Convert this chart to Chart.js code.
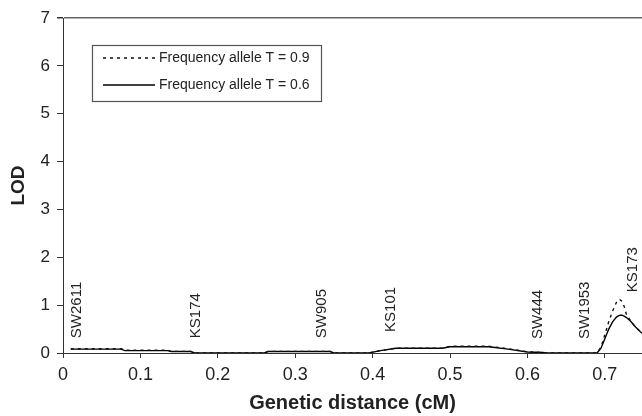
<!DOCTYPE html>
<html>
<head>
<meta charset="utf-8">
<script src="https://cdn.jsdelivr.net/npm/chart.js@4"></script>
<style>
  html, body { margin: 0; padding: 0; background: #fff; }
  #wrap { width: 642px; height: 416px; }
</style>
</head>
<body>
<div id="wrap"><canvas id="lodChart"></canvas></div>
<script>
// values
var distance = [0.01, 0.075, 0.08, 0.135, 0.14, 0.165, 0.17, 0.26, 0.265, 0.345, 0.35, 0.395,
    0.41, 0.43, 0.49, 0.5, 0.55, 0.575, 0.6, 0.62, 0.625, 0.69, 0.695, 0.7, 0.705, 0.71,
    0.715, 0.718, 0.72, 0.722, 0.725, 0.728, 0.733, 0.74, 0.748];
var lod09 = [0.09, 0.09, 0.06, 0.06, 0.035, 0.035, 0, 0, 0.035, 0.035, 0, 0,
    0.05, 0.1, 0.1, 0.14, 0.14, 0.09, 0.025, 0.01, 0, 0, 0.12, 0.38, 0.65, 0.88,
    1.06, 1.12, 1.11, 1.08, 0.97, 0.8, 0.68, 0.53, 0.42];
var lod06 = [0.08, 0.08, 0.05, 0.05, 0.03, 0.03, 0, 0, 0.03, 0.03, 0, 0,
    0.05, 0.1, 0.1, 0.13, 0.13, 0.08, 0.02, 0.01, 0, 0, 0.1, 0.3, 0.5, 0.65,
    0.75, 0.78, 0.79, 0.79, 0.77, 0.74, 0.67, 0.54, 0.41];
var seriesLabels = ['Frequency allele T = 0.9', 'Frequency allele T = 0.6'];

var markerNames = ['SW2611', 'KS174', 'SW905', 'KS101', 'SW444', 'SW1953', 'KS173'];
var markerPos = [0.018, 0.172, 0.335, 0.423, 0.614, 0.674, 0.736];
var markerLabelY = [0.31, 0.31, 0.31, 0.44, 0.29, 0.29, 1.27];

var xTicks = [0, 0.1, 0.2, 0.3, 0.4, 0.5, 0.6, 0.7];
var xMax = 0.748;
var yMax = 7;

var FONT = '"Liberation Sans", Arial, sans-serif';

var markerPlugin = {
    id: 'markerLabels',
    afterDatasetsDraw: (chart) => {
        var ctx = chart.ctx;
        var xs = chart.scales.x, ys = chart.scales.y;
        ctx.save();
        ctx.fillStyle = '#222';
        ctx.font = '15px ' + FONT;
        ctx.textAlign = 'left';
        ctx.textBaseline = 'middle';
        for (let i = 0; i < markerNames.length; i++) {
            ctx.save();
            ctx.translate(xs.getPixelForValue(markerPos[i]), ys.getPixelForValue(markerLabelY[i]));
            ctx.rotate(-Math.PI / 2);
            ctx.fillText(markerNames[i], 0, 0);
            ctx.restore();
        }
        ctx.restore();
    }
};

// legend box inside the plot, like the original
var boxLegend = {
    id: 'boxLegend',
    afterDraw: (chart) => {
        var ctx = chart.ctx;
        var a = chart.chartArea;
        var left = a.left + 29, top = a.top + 27;
        ctx.save();
        ctx.strokeStyle = '#555';
        ctx.lineWidth = 1.2;
        ctx.strokeRect(left + 0.5, top + 0.5, 229, 56);
        chart.data.datasets.forEach((ds, i) => {
            var y = top + 13 + i * 27;
            ctx.beginPath();
            ctx.setLineDash(ds.borderDash || []);
            ctx.strokeStyle = ds.borderColor;
            ctx.lineWidth = ds.borderWidth;
            ctx.moveTo(left + 11, y);
            ctx.lineTo(left + 63, y);
            ctx.stroke();
            ctx.setLineDash([]);
            ctx.fillStyle = '#222';
            ctx.font = '14px ' + FONT;
            ctx.textBaseline = 'middle';
            ctx.fillText(ds.label, left + 67, y);
        });
        ctx.restore();
    }
};

new Chart(
    document.getElementById('lodChart'),
    {
        type: 'line',
        data: {
            datasets: [
                {
                    label: seriesLabels[0],
                    data: distance.map((d, i) => ({ x: d, y: lod09[i] })),
                    borderColor: '#111',
                    borderWidth: 1.4,
                    borderDash: [3, 4],
                    pointRadius: 0,
                    tension: 0
                },
                {
                    label: seriesLabels[1],
                    data: distance.map((d, i) => ({ x: d, y: lod06[i] })),
                    borderColor: '#000',
                    borderWidth: 1.4,
                    pointRadius: 0,
                    tension: 0
                }
            ]
        },
        options: {
            responsive: true,
            maintainAspectRatio: false,
            animation: false,
            layout: { padding: { top: 18, right: 0, left: 0, bottom: 0 } },
            plugins: {
                legend: { display: false },
                tooltip: { enabled: false }
            },
            scales: {
                x: {
                    type: 'linear',
                    min: 0,
                    max: xMax,
                    afterBuildTicks: (scale) => {
                        scale.ticks = xTicks.map(v => ({ value: v }));
                    },
                    afterFit: (scale) => { scale.height = 63; },
                    ticks: {
                        color: '#222',
                        padding: 6,
                        maxRotation: 0,
                        font: { family: FONT, size: 18 },
                        callback: (v) => String(Math.round(v * 10) / 10)
                    },
                    grid: {
                        color: 'transparent',
                        tickColor: '#333',
                        tickLength: 5
                    },
                    border: { color: '#333', width: 1 },
                    title: {
                        display: true,
                        text: 'Genetic distance (cM)',
                        color: '#222',
                        font: { family: FONT, size: 20, weight: 'bold' },
                        padding: { top: 0, bottom: 1 }
                    }
                },
                y: {
                    min: 0,
                    max: yMax,
                    afterFit: (scale) => { scale.width = 63; },
                    ticks: {
                        stepSize: 1,
                        color: '#222',
                        padding: 7,
                        font: { family: FONT, size: 17 }
                    },
                    grid: {
                        color: (c) => c.tick && c.tick.value === yMax ? '#666' : 'transparent',
                        lineWidth: (c) => c.tick && c.tick.value === yMax ? 1.5 : 1,
                        tickColor: '#333',
                        tickLength: 6
                    },
                    border: { color: '#333', width: 1 },
                    title: {
                        display: true,
                        text: 'LOD',
                        color: '#222',
                        font: { family: FONT, size: 19, weight: 'bold' },
                        padding: { top: 7, bottom: 0 }
                    }
                }
            }
        },
        plugins: [markerPlugin, boxLegend]
    }
);
</script>
</body>
</html>
